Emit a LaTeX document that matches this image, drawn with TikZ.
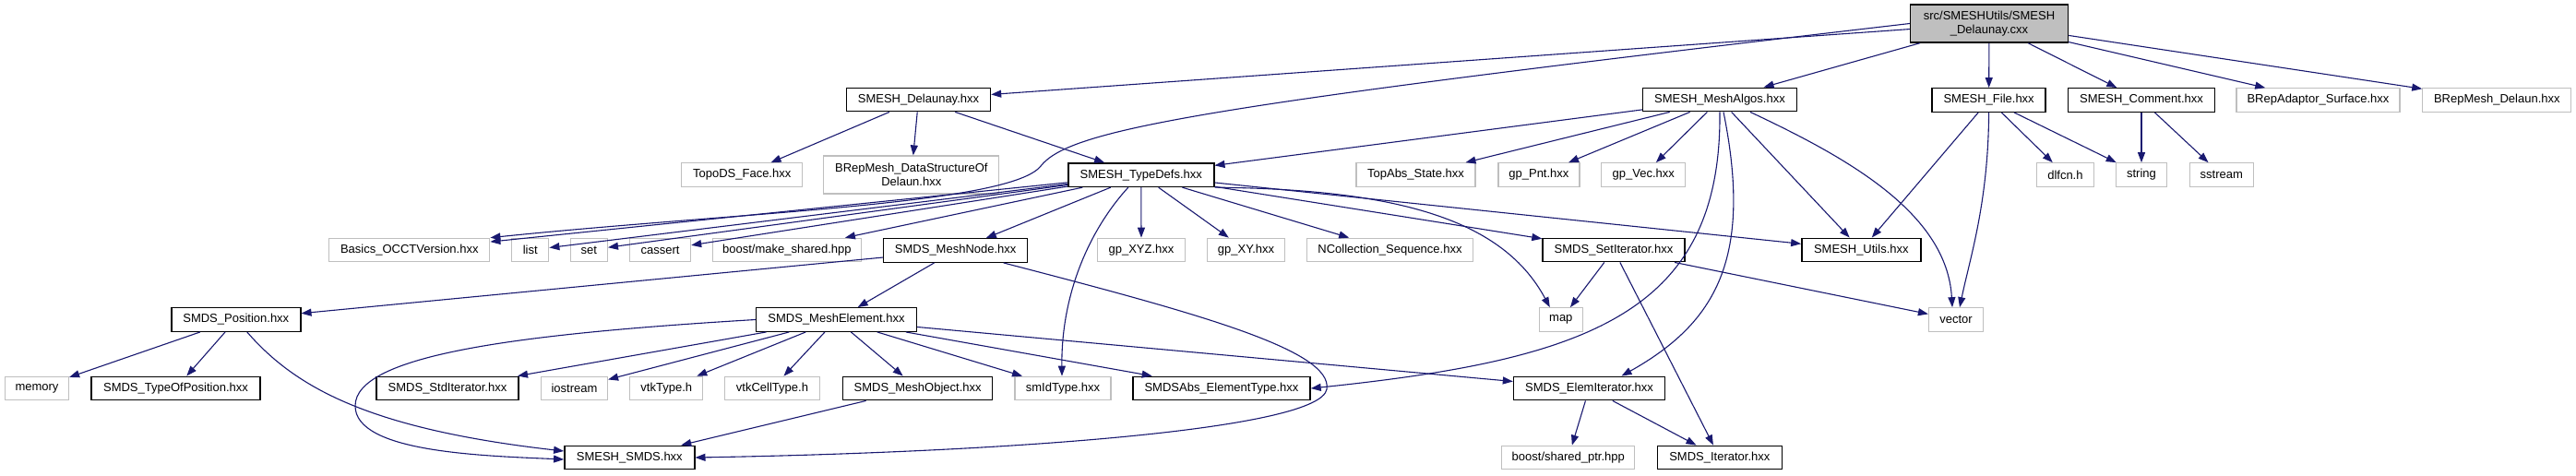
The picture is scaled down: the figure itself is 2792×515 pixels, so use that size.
\documentclass[tikz,border=0pt]{standalone}
\usepackage{fontspec}
\setmainfont{Liberation Sans}
\usetikzlibrary{arrows.meta}

\definecolor{extgray}{HTML}{BFBFBF}
\definecolor{edgeblue}{HTML}{191970}

\tikzset{
  box/.style={rectangle, inner sep=0pt, minimum height=25.5pt, align=center, font=\fontsize{13}{14.5}\selectfont},
  docbox/.style={box, draw=black, line width=1.4pt},
  extbox/.style={box, draw=extgray, line width=1.2pt},
  rootbox/.style={docbox, fill=extgray, minimum height=41pt},
  edge/.style={draw=edgeblue, line width=1.1pt, -{Triangle[length=11pt,width=8pt]}}
}

\begin{document}
\begin{tikzpicture}[x=1pt,y=-1pt]

\fill[white] (0,0) rectangle (2792,515);
\useasboundingbox (0,0) rectangle (2792,515);

\node [rootbox, minimum width=171pt] (root) at (2156,25.5) {src/SMESHUtils/SMESH\\\_Delaunay.cxx};

\node [docbox, minimum width=156pt] (delaunay) at (995.5,108) {SMESH\_Delaunay.hxx};
\node [docbox, minimum width=167pt] (meshalgos) at (1864,108) {SMESH\_MeshAlgos.hxx};
\node [docbox, minimum width=123pt] (file) at (2155.6,108.5) {SMESH\_File.hxx};
\node [docbox, minimum width=159pt] (comment) at (2321,108.5) {SMESH\_Comment.hxx};
\node [extbox, minimum width=177pt] (adaptor) at (2512.5,108.5) {BRepAdaptor\_Surface.hxx};
\node [extbox, minimum width=161pt] (brepdelaun) at (2706.3,108.5) {BRepMesh\_Delaun.hxx};

\node [extbox, minimum width=131pt] (topoface) at (804.2,189.5) {TopoDS\_Face.hxx};
\node [extbox, minimum width=190pt, minimum height=41pt] (datastruct) at (987.8,189.5) {BRepMesh\_DataStructureOf\\Delaun.hxx};
\node [docbox, minimum width=158pt] (typedefs) at (1236.8,189.7) {SMESH\_TypeDefs.hxx};
\node [extbox, minimum width=129pt] (topabs) at (1534.5,189.5) {TopAbs\_State.hxx};
\node [extbox, minimum width=88pt] (gppnt) at (1667.9,189.5) {gp\_Pnt.hxx};
\node [extbox, minimum width=91pt] (gpvec) at (1781.3,189.5) {gp\_Vec.hxx};
\node [extbox, minimum width=62pt] (dlfcn) at (2238.4,189.5) {dlfcn.h};
\node [extbox, minimum width=55pt] (string) at (2321,189.5) {string};
\node [extbox, minimum width=69pt] (sstream) at (2407.8,189.5) {sstream};

\node [extbox, minimum width=174pt] (basics) at (443.8,271) {Basics\_OCCTVersion.hxx};
\node [extbox, minimum width=40pt] (list) at (574.8,271) {list};
\node [extbox, minimum width=40pt] (set) at (638.4,271) {set};
\node [extbox, minimum width=66pt] (cassert) at (715.6,271) {cassert};
\node [extbox, minimum width=161pt] (makeshared) at (852.9,271) {boost/make\_shared.hpp};
\node [docbox, minimum width=156pt] (meshnode) at (1035.7,271.5) {SMDS\_MeshNode.hxx};
\node [extbox, minimum width=95pt] (gpxyz) at (1237,271) {gp\_XYZ.hxx};
\node [extbox, minimum width=84pt] (gpxy) at (1350.5,271) {gp\_XY.hxx};
\node [extbox, minimum width=180pt] (ncollseq) at (1506.5,271) {NCollection\_Sequence.hxx};
\node [docbox, minimum width=154pt] (setiter) at (1749,271) {SMDS\_SetIterator.hxx};
\node [docbox, minimum width=129pt] (utils) at (2017.3,271) {SMESH\_Utils.hxx};

\node [docbox, minimum width=140pt] (position) at (255.8,346.5) {SMDS\_Position.hxx};
\node [docbox, minimum width=174pt] (meshelem) at (906.5,346.5) {SMDS\_MeshElement.hxx};
\node [extbox, minimum width=47pt] (map) at (1691.8,346.5) {map};
\node [extbox, minimum width=59pt] (vector) at (2120,346.5) {vector};

\node [extbox, minimum width=69pt] (memory) at (40,421) {memory};
\node [docbox, minimum width=183pt] (typeofpos) at (190.5,421) {SMDS\_TypeOfPosition.hxx};
\node [docbox, minimum width=154pt] (stditer) at (485,421) {SMDS\_StdIterator.hxx};
\node [extbox, minimum width=72pt] (iostream) at (622.5,421) {iostream};
\node [extbox, minimum width=79pt] (vtktype) at (722.3,421) {vtkType.h};
\node [extbox, minimum width=103pt] (vtkcelltype) at (837,421) {vtkCellType.h};
\node [docbox, minimum width=162pt] (meshobject) at (994.6,421) {SMDS\_MeshObject.hxx};
\node [extbox, minimum width=104pt] (smidtype) at (1152,421) {smIdType.hxx};
\node [docbox, minimum width=192pt] (elemtype) at (1324,421) {SMDSAbs\_ElementType.hxx};
\node [docbox, minimum width=164pt] (elemiter) at (1722.5,421) {SMDS\_ElemIterator.hxx};

\node [docbox, minimum width=141pt] (smds) at (682.3,496) {SMESH\_SMDS.hxx};
\node [extbox, minimum width=144pt] (sharedptr) at (1699.8,496) {boost/shared\_ptr.hpp};
\node [docbox, minimum width=135pt] (iterator) at (1863.8,496) {SMDS\_Iterator.hxx};

\foreach \a/\b in {root/delaunay, root/meshalgos, root/file, root/comment, root/adaptor, root/brepdelaun,
  delaunay/topoface, delaunay/datastruct, delaunay/typedefs,
  meshalgos/typedefs, meshalgos/topabs, meshalgos/gppnt, meshalgos/gpvec, meshalgos/utils,
  file/utils, file/dlfcn, file/string, comment/string, comment/sstream,
  typedefs/basics, typedefs/list, typedefs/set, typedefs/cassert, typedefs/makeshared, typedefs/meshnode,
  typedefs/gpxyz, typedefs/gpxy, typedefs/ncollseq, typedefs/setiter, typedefs/utils,
  meshnode/position, meshnode/meshelem, position/memory, position/typeofpos,
  meshelem/stditer, meshelem/iostream, meshelem/vtktype, meshelem/vtkcelltype, meshelem/meshobject,
  meshelem/smidtype, meshelem/elemtype, meshelem/elemiter, meshobject/smds,
  setiter/map, setiter/iterator, setiter/vector, elemiter/sharedptr, elemiter/iterator}
{
	\draw [edge] (\a) -- (\b);
}

\draw [edge] (root.west) .. controls (1300,115) and (1160,140) .. (1128,180) .. controls (1095,222) and (800,230) .. (basics.north east);
\draw [edge] (meshalgos.south) .. controls (1866,340) and (1720,390) .. (elemtype.east);
\draw [edge] ([xshift=4pt]meshalgos.south) .. controls (1900,280) and (1860,350) .. ([xshift=35pt]elemiter.north);
\draw [edge] ([xshift=33pt]meshalgos.south) .. controls (2000,170) and (2110,230) .. ([xshift=-4pt]vector.north);
\draw [edge] (file.south) .. controls (2155,220) and (2135,280) .. ([xshift=4pt]vector.north);
\draw [edge] ([xshift=-14pt]typedefs.south) .. controls (1180,250) and (1150,320) .. ([xshift=-1pt]smidtype.north);
\draw [edge] (typedefs.south east) .. controls (1520,205) and (1630,240) .. ([xshift=-12pt]map.north);
\draw [edge] ([xshift=52pt]meshnode.south) .. controls (1300,340) and (1445,380) .. (1438,422) .. controls (1430,465) and (1100,490) .. (smds.east);
\draw [edge] ([xshift=12pt]position.south) .. controls (320,420) and (400,465) .. ([yshift=7pt]smds.west);
\draw [edge] (meshelem.west) .. controls (560,362) and (385,385) .. (385,440) .. controls (385,490) and (520,494) .. ([yshift=-2pt]smds.west);
\end{tikzpicture}
\end{document}
